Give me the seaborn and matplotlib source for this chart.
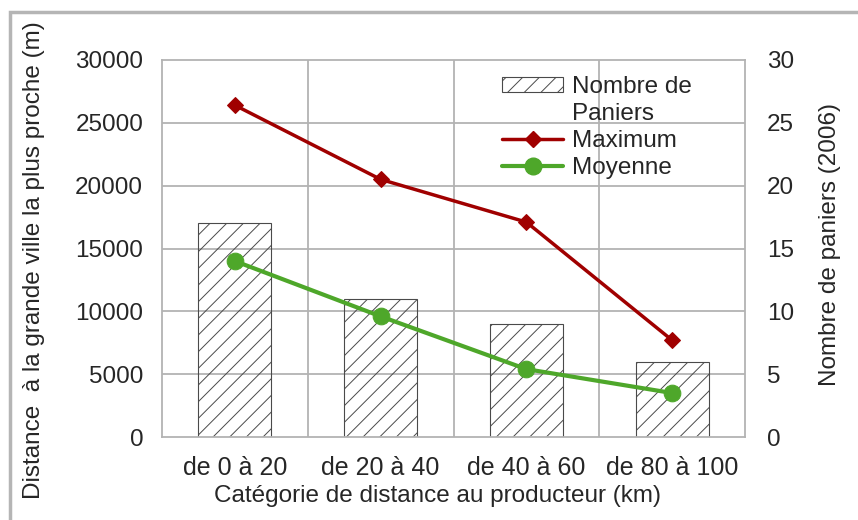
import numpy as np
import pandas as pd
import matplotlib
matplotlib.use('Agg')
import matplotlib.pyplot as plt
import matplotlib.patches as mpatches
import seaborn as sns

# data
categories = ['de 0 à 20', 'de 20 à 40', 'de 40 à 60', 'de 80 à 100']
paniers = [17, 11, 9, 6]
maximum = [26400, 20500, 17100, 7700]
moyenne = [14000, 9600, 5400, 3500]

sns.set_style('white')
plt.rcParams['font.family'] = ['Liberation Sans', 'DejaVu Sans']
plt.rcParams['hatch.linewidth'] = 0.7
plt.rcParams['hatch.color'] = '#4a4a4a'

grid_col = '#b3b3b3'
red = '#a00000'
green = '#4ea72a'
fs = 17.5

fig = plt.figure(figsize=(8.58, 5.2), dpi=100)
ax = fig.add_axes([162/858, 1-437/520, (745-162)/858, (437-60)/520])

# bars on the base axes (drawn underneath)
df = pd.DataFrame({'cat': categories, 'paniers': paniers})
sns.barplot(data=df, x='cat', y='paniers', ax=ax, width=0.5,
            facecolor='none', edgecolor='#4a4a4a', linewidth=0.8,
            hatch='//', zorder=2)
ax.set_xlim(-0.5, 3.5)

# lines on the twin axes
ax2 = ax.twinx()
sns.lineplot(x=categories, y=maximum, ax=ax2, color=red, marker='D',
             markersize=8, markeredgecolor=red, linewidth=2.5, sort=False)
sns.lineplot(x=categories, y=moyenne, ax=ax2, color=green, marker='o',
             markersize=12, markeredgecolor=green, linewidth=3, sort=False)
ax2.set_xlim(-0.5, 3.5)

# bars axis -> right side, lines axis -> left side
ax.yaxis.tick_right()
ax.yaxis.set_label_position('right')
ax2.yaxis.tick_left()
ax2.yaxis.set_label_position('left')

ax.set_ylim(0, 30)
ax.set_yticks(np.arange(0, 31, 5))
ax.set_ylabel('Nombre de paniers (2006)', fontsize=fs)
ax.yaxis.set_label_coords(1.127, 0.51)
ax.set_xlabel('Catégorie de distance au producteur (km)', fontsize=fs)
ax.xaxis.set_label_coords((437-162)/583, -0.128)
ax.tick_params(axis='y', labelsize=fs, length=0, pad=16)
ax.tick_params(axis='x', labelsize=18, length=0, pad=14)

ax2.set_ylim(0, 30000)
ax2.set_yticks(np.arange(0, 30001, 5000))
ax2.tick_params(axis='y', labelsize=fs, length=0, pad=13.5)
ax2.set_ylabel('Distance  à la grande ville la plus proche (m)', fontsize=fs)
ax2.yaxis.set_label_coords(-0.2, 0.4695)

# grid at category boundaries and every 5000 m
for xb in [0.5, 1.5, 2.5]:
    ax.axvline(xb, color=grid_col, lw=1.3, zorder=0)
for yv in np.arange(5, 30, 5):
    ax.axhline(yv, color=grid_col, lw=1.3, zorder=0)
for s in ax.spines.values():
    s.set_color(grid_col)
    s.set_linewidth(1.3)
for s in ax2.spines.values():
    s.set_visible(False)

handles = [
    mpatches.Patch(facecolor='none', edgecolor='#4a4a4a', hatch='//', linewidth=0.8),
    mpatches.Patch(facecolor='none', edgecolor='none'),
    plt.Line2D([], [], color=red, marker='D', markersize=8, linewidth=2.5),
    plt.Line2D([], [], color=green, marker='o', markersize=12, linewidth=3),
]
ax2.legend(handles, ['Nombre de', 'Paniers', 'Maximum', 'Moyenne'],
           loc='upper left', bbox_to_anchor=(490/858, 1-64/520),
           bbox_transform=fig.transFigure, frameon=False, fontsize=fs,
           handlelength=2.5, handleheight=0.6, handletextpad=0.37,
           labelspacing=0.2, borderpad=0)

# grey frame of the original picture
fig.patches.append(mpatches.Rectangle((10/858, -0.1), 1.2, 1 - 12/520 + 0.1,
                                      transform=fig.transFigure, fill=False,
                                      edgecolor='#b5b5b5', linewidth=2.5))

fig.savefig('out.png', dpi=100)
